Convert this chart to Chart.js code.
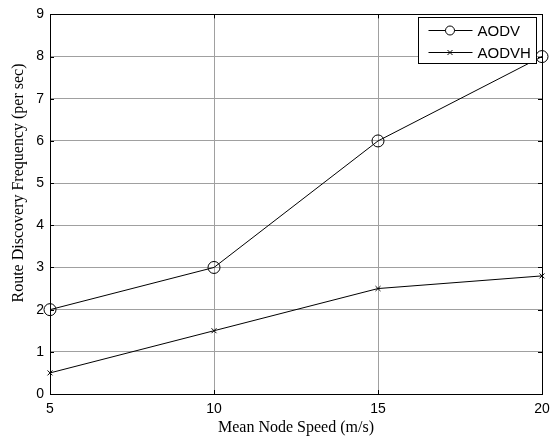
<!DOCTYPE html>
<html>
<head>
<meta charset="utf-8">
<script src="https://cdn.jsdelivr.net/npm/chart.js@4"></script>
<style>
  html, body { margin: 0; padding: 0; background: #fff; }
  #wrap { width: 558px; height: 440px; }
</style>
</head>
<body>
<div id="wrap"><canvas id="c" width="558" height="440"></canvas></div>
<script>
// chart data
const speeds = [5, 10, 15, 20];
const aodv = [2, 3, 6, 8];
const aodvh = [0.5, 1.5, 2.5, 2.8];
const xTicks = [5, 10, 15, 20];
const yTicks = [0, 1, 2, 3, 4, 5, 6, 7, 8, 9];
const yTitle = 'Route Discovery Frequency (per sec)';

const serif = '"Liberation Serif", "Times New Roman", serif';
const sans = '"Liberation Sans", Arial, sans-serif';

// inner tick marks + box, MATLAB style
const frame = {
  id: 'frame',
  afterDraw(chart) {
    const { ctx, chartArea: a, scales: { x, y } } = chart;
    ctx.save();
    ctx.strokeStyle = '#000';
    ctx.lineWidth = 1;
    ctx.beginPath();
    xTicks.forEach(v => {
      const px = Math.round(x.getPixelForValue(v)) + 0.5;
      ctx.moveTo(px, a.bottom); ctx.lineTo(px, a.bottom - 4);
      ctx.moveTo(px, a.top); ctx.lineTo(px, a.top + 4);
    });
    yTicks.forEach(v => {
      const py = Math.round(y.getPixelForValue(v)) + 0.5;
      ctx.moveTo(a.left, py); ctx.lineTo(a.left + 4, py);
      ctx.moveTo(a.right, py); ctx.lineTo(a.right - 4, py);
    });
    ctx.stroke();
    ctx.strokeRect(Math.round(a.left) + 0.5, Math.round(a.top) + 0.5,
      Math.round(a.right - a.left), Math.round(a.bottom - a.top));

    // y title sits a little above the axis centre, like the original
    ctx.translate(19, 183);
    ctx.rotate(-Math.PI / 2);
    ctx.font = '16px ' + serif;
    ctx.fillStyle = '#000';
    ctx.textAlign = 'center';
    ctx.textBaseline = 'middle';
    ctx.fillText(yTitle, 0, 0);
    ctx.restore();
  }
};

// legend box with line + marker samples (covers the lines under it)
const boxLegend = {
  id: 'boxLegend',
  afterDatasetsDraw(chart) {
    const ctx = chart.ctx;
    const bx = 418.5, by = 17.5, bw = 118, bh = 46;
    ctx.save();
    ctx.fillStyle = '#fff';
    ctx.fillRect(bx, by, bw, bh);
    ctx.strokeStyle = '#000';
    ctx.lineWidth = 1;
    ctx.strokeRect(bx, by, bw, bh);
    ctx.font = '15px ' + sans;
    ctx.textBaseline = 'middle';
    chart.data.datasets.forEach((ds, i) => {
      const cy = by + 13 + i * 22;
      ctx.beginPath();
      ctx.moveTo(bx + 10, cy); ctx.lineTo(bx + 54, cy);
      ctx.stroke();
      if (ds.pointStyle === 'circle') {
        ctx.beginPath();
        ctx.arc(bx + 31.5, cy, 4.5, 0, Math.PI * 2);
        ctx.fillStyle = '#fff';
        ctx.fill();
        ctx.stroke();
      } else {
        ctx.beginPath();
        ctx.moveTo(bx + 29, cy - 2.5); ctx.lineTo(bx + 34, cy + 2.5);
        ctx.moveTo(bx + 34, cy - 2.5); ctx.lineTo(bx + 29, cy + 2.5);
        ctx.stroke();
      }
      ctx.fillStyle = '#000';
      ctx.fillText(ds.label, bx + 59, cy + 1);
    });
    ctx.restore();
  }
};

new Chart(document.getElementById('c'), {
  type: 'line',
  data: {
    datasets: [
      {
        label: 'AODV',
        data: speeds.map((s, i) => ({ x: s, y: aodv[i] })),
        borderColor: '#000',
        borderWidth: 1,
        pointStyle: 'circle',
        pointRadius: 6,
        pointBorderColor: '#000',
        pointBackgroundColor: 'rgba(0,0,0,0)',
        pointBorderWidth: 1,
        tension: 0
      },
      {
        label: 'AODVH',
        data: speeds.map((s, i) => ({ x: s, y: aodvh[i] })),
        borderColor: '#000',
        borderWidth: 1,
        pointStyle: 'crossRot',
        pointRadius: 3.5,
        pointBorderColor: '#000',
        pointBorderWidth: 1,
        tension: 0
      }
    ]
  },
  options: {
    responsive: false,
    animation: false,
    clip: false,
    layout: { padding: { top: 9, right: 16, left: 0, bottom: 0 } },
    plugins: { legend: { display: false }, tooltip: { enabled: false } },
    scales: {
      x: {
        type: 'linear',
        min: 5, max: 20,
        afterBuildTicks: s => { s.ticks = xTicks.map(v => ({ value: v })); },
        afterFit: s => { s.height = 46; },
        border: { display: false },
        grid: { color: '#a0a0a0', lineWidth: 1, tickLength: 0, drawTicks: false },
        ticks: { color: '#000', padding: 7, font: { family: sans, size: 14 } },
        title: {
          display: true,
          text: 'Mean Node Speed (m/s)',
          color: '#000',
          font: { family: serif, size: 16 },
          padding: { top: 0, bottom: 3 }
        }
      },
      y: {
        min: 0, max: 9,
        afterBuildTicks: s => { s.ticks = yTicks.map(v => ({ value: v })); },
        afterFit: s => { s.width = 50; },
        border: { display: false },
        grid: { color: '#a0a0a0', lineWidth: 1, tickLength: 0, drawTicks: false },
        ticks: { color: '#000', padding: 6, font: { family: sans, size: 14 } }
      }
    }
  },
  plugins: [frame, boxLegend]
});
</script>
</body>
</html>
